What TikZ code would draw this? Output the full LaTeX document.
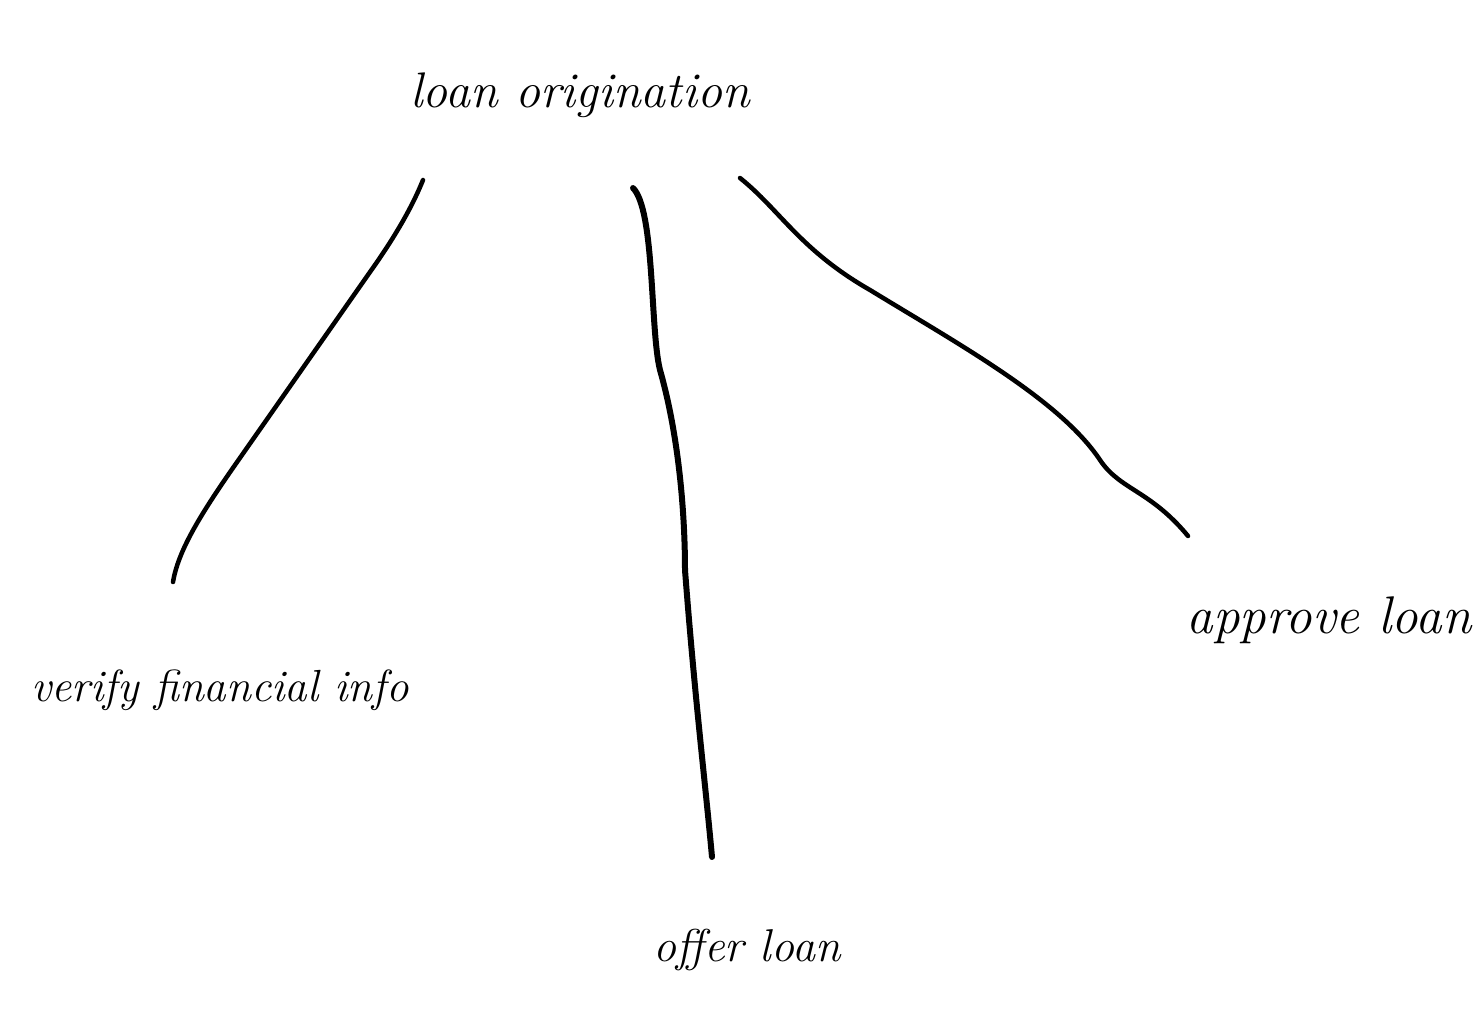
\documentclass[tikz,border=0pt]{standalone}
\usetikzlibrary{calc}
\begin{document}
\begin{tikzpicture}[x=1pt,y=-1pt,
  lbl/.style={inner sep=0pt,font=\itshape\fontsize{45}{50}\selectfont},
  link/.style={line width=4.5pt,line cap=round,line join=round},
  thick link/.style={line width=6pt,line cap=round,line join=round}]
\useasboundingbox[fill=white] (0,0) rectangle (1476,1011);
\node[lbl,font=\itshape\fontsize{50}{54}\selectfont] (root) at (580,95) {loan origination};
\node[lbl] (verify) at (220,690) {verify financial info};
\node[lbl,font=\itshape\fontsize{46}{50}\selectfont] (offer) at (747,950) {offer loan};
\node[lbl,font=\itshape\fontsize{53}{56}\selectfont] (approve) at (1329,620) {approve loan};
\coordinate (r1) at (423,180);
\coordinate (r2) at (633,188);
\coordinate (r3) at (740,178);
\coordinate (v) at (173,582);
\coordinate (o) at (712,857);
\coordinate (a) at (1188,536);
\draw[link] (r1) .. controls (415,200) and (400,230) .. (370,272)
  -- (235,465) .. controls (198,518) and (178,552) .. (v);
\draw[thick link] (r2) .. controls (655,210) and (650,330) .. (660,370)
  .. controls (680,440) and (685,520) .. (685,570)
  .. controls (695,700) and (705,780) .. (o);
\draw[link] (r3) .. controls (780,210) and (800,250) .. (870,290)
  .. controls (960,345) and (1060,400) .. (1100,460)
  .. controls (1120,490) and (1150,490) .. (a);
\end{tikzpicture}
\end{document}
